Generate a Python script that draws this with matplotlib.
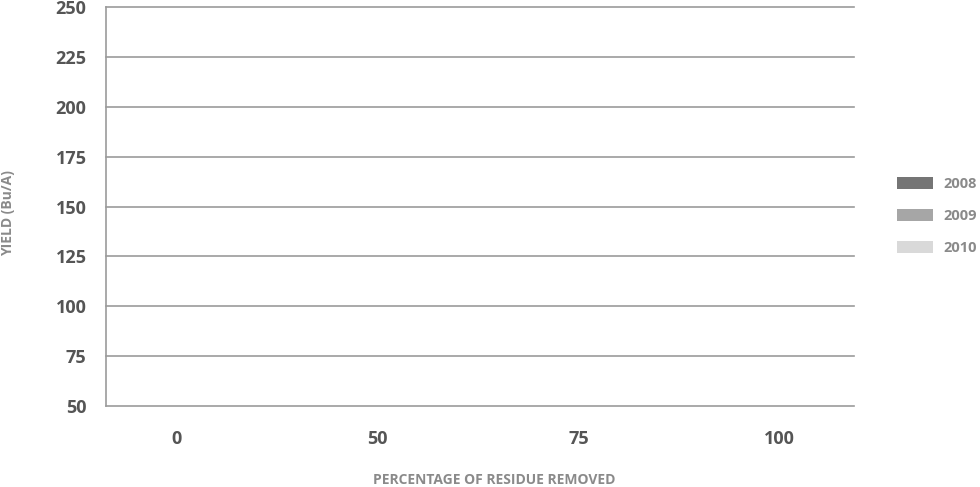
import numpy as np
import matplotlib
matplotlib.use('Agg')
import matplotlib.pyplot as plt
from matplotlib.patches import Patch

plt.rcParams['font.family'] = ['Open Sans', 'DejaVu Sans']

# data
categories = ['0', '50', '75', '100']
years = ['2008', '2009', '2010']
# bars are not drawn up yet in the picture: all sit on the 50 baseline
yield_2008 = [50, 50, 50, 50]
yield_2009 = [50, 50, 50, 50]
yield_2010 = [50, 50, 50, 50]
y_ticks = [50, 75, 100, 125, 150, 175, 200, 225, 250]

colors = ['#757575', '#a6a6a6', '#d9d9d9']
grid_color = '#9b9b9b'

W, H = 980, 487
fig = plt.figure(figsize=(W / 100, H / 100), dpi=100)
ax = fig.add_axes([106 / W, (H - 406) / H, 748 / W, 399 / H])

x = np.arange(len(categories))
bw = 0.2
y0 = y_ticks[0]
for i, (vals, c) in enumerate(zip([yield_2008, yield_2009, yield_2010], colors)):
    v = np.array(vals, dtype=float)
    ax.bar(x + (i - 1) * bw, v - y0, bw, bottom=y0, color=c, linewidth=0)

ax.set_ylim(y_ticks[0], y_ticks[-1])
ax.set_xlim(-0.35, 3.37)
ax.set_yticks(y_ticks)
ax.set_xticks(x)
ax.set_xticklabels(categories)

# grid lines
for t in y_ticks:
    ax.axhline(t, color=grid_color, lw=1.2, zorder=0, clip_on=False)

for s in ['top', 'right', 'bottom']:
    ax.spines[s].set_visible(False)
ax.spines['left'].set_color(grid_color)
ax.spines['left'].set_linewidth(1.2)

ax.tick_params(axis='both', length=0, labelsize=13, labelcolor='#555555')
ax.tick_params(axis='y', pad=14)
ax.tick_params(axis='x', pad=17)
for lab in ax.get_xticklabels() + ax.get_yticklabels():
    lab.set_fontweight('bold')

fig.text(494 / W, 1 - 480 / H, 'PERCENTAGE OF RESIDUE REMOVED', ha='center', va='center',
         fontsize=10, fontweight='bold', color='#8a8a8a')
fig.text(8 / W, 1 - 213 / H, 'YIELD (Bu/A)', ha='center', va='center', rotation=90,
         fontsize=10, fontweight='bold', color='#8a8a8a')

handles = [Patch(facecolor=c, edgecolor='none') for c in colors]
leg = fig.legend(handles, years, loc='center left', bbox_to_anchor=(897 / W, 1 - 216 / H),
                 frameon=False, fontsize=10.5, handlelength=2.45, handleheight=0.9,
                 labelspacing=1.2, handletextpad=0.72, borderpad=0, borderaxespad=0)
for t in leg.get_texts():
    t.set_color('#8a8a8a')
    t.set_fontweight('bold')

fig.savefig('out.png', dpi=100)
